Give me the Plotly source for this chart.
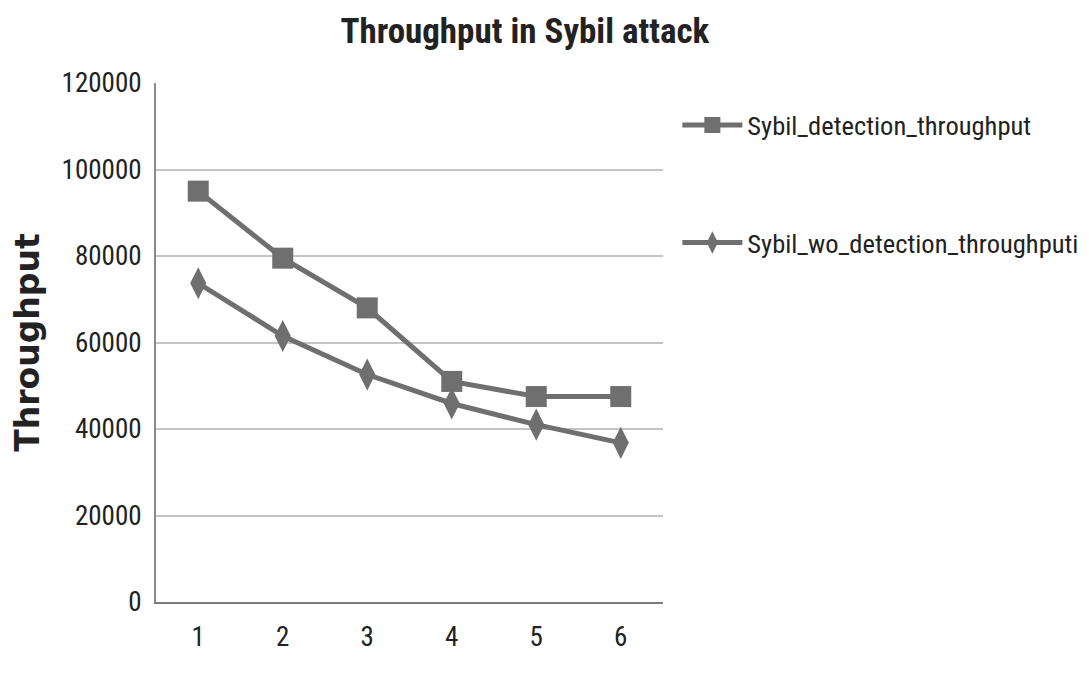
import plotly.graph_objects as go

categories = [1, 2, 3, 4, 5, 6]
detection = [95000, 79500, 68000, 51000, 47500, 47500]
wo_detection = [73700, 61500, 52600, 45900, 41000, 36800]
y_ticks = [0, 20000, 40000, 60000, 80000, 100000, 120000]

line_color = "#6f6f6f"
font_narrow = "Liberation Sans Narrow, Arial Narrow, Roboto Condensed, sans-serif"

fig = go.Figure()
fig.add_trace(go.Scatter(
    x=categories, y=detection, mode="lines+markers",
    name="Sybil_detection_throughput", legendgroup="a",
    line=dict(color=line_color, width=5),
    marker=dict(symbol="square", size=21, color=line_color),
))
fig.add_trace(go.Scatter(
    x=categories, y=wo_detection, mode="lines+markers",
    name="Sybil_wo_detection_throughputi", legendgroup="b",
    line=dict(color=line_color, width=5),
    marker=dict(symbol="diamond-tall", size=23, color=line_color),
))

fig.update_layout(
    width=1089, height=681,
    margin=dict(l=156, r=426, t=83, b=79, autoexpand=False),
    paper_bgcolor="white", plot_bgcolor="white",
    title=dict(text="<b>Throughput in Sybil attack</b>", x=0.482, xanchor="center",
               y=0.955, yanchor="middle",
               font=dict(family=font_narrow, size=35, color="#222222")),
    legend=dict(xref="container", yref="container", x=0.622, y=0.73,
                xanchor="left", yanchor="middle",
                font=dict(family=font_narrow, size=26.5, color="#222222"),
                tracegroupgap=80, traceorder="grouped", itemwidth=60,
                bgcolor="rgba(0,0,0,0)"),
    showlegend=True,
)
fig.update_xaxes(
    tickmode="array", tickvals=categories, ticktext=[str(c) for c in categories],
    range=[0.5, 6.5], showgrid=False, showline=True, linecolor="#7a7a7a", linewidth=2,
    ticks="", ticklabelstandoff=10,
    tickfont=dict(family=font_narrow, size=27, color="#222222"),
    zeroline=False,
)
fig.update_yaxes(
    tickmode="array", tickvals=y_ticks, ticktext=[str(v) for v in y_ticks],
    range=[0, 120000], showgrid=True, gridcolor="#c4c4c4", gridwidth=2,
    showline=True, linecolor="#8a8a8a", linewidth=2, ticks="", ticklabelstandoff=7,
    zeroline=False,
    tickfont=dict(family=font_narrow, size=27, color="#222222"),
    title=dict(text="<b>Throughput</b>", standoff=12,
               font=dict(family="DejaVu Sans, Verdana, sans-serif", size=33, color="#222222")),
)

fig.write_html("out.html")
